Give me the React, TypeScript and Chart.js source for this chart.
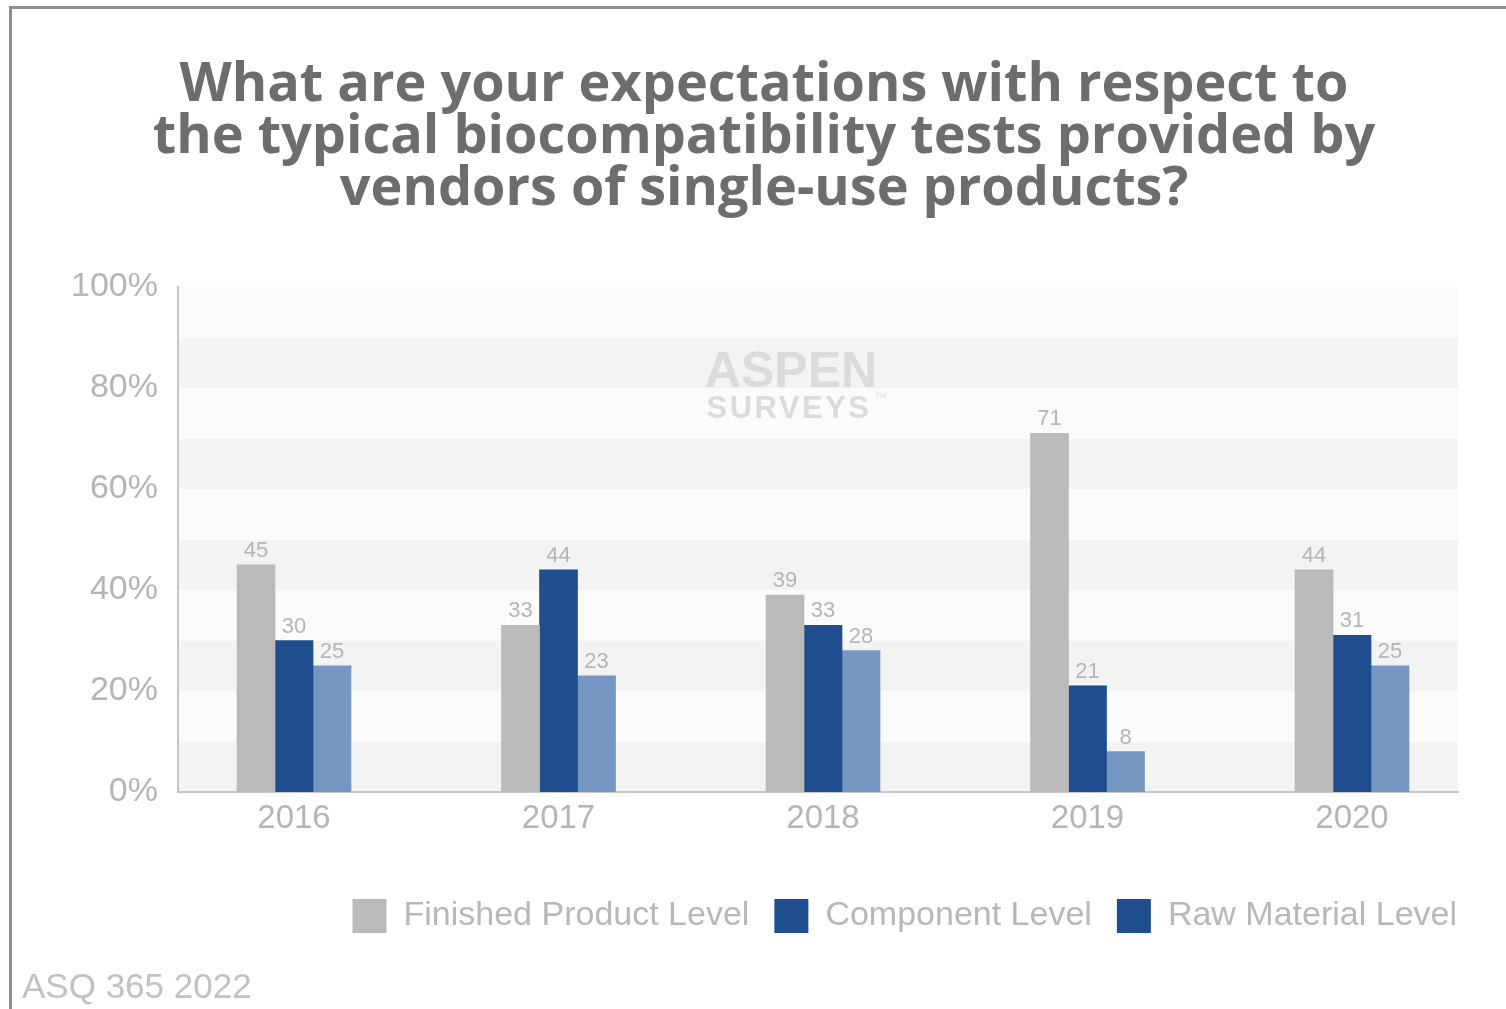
import React, { useEffect, useRef } from "react";
import { Chart, registerables } from "chart.js";

Chart.register(...registerables);

// ---------- data ----------
const years = [2016, 2017, 2018, 2019, 2020];
const finishedProduct = [45, 33, 39, 71, 44];
const componentLevel = [30, 44, 33, 21, 31];
const rawMaterial = [25, 23, 28, 8, 25];
const seriesNames = ["Finished Product Level", "Component Level", "Raw Material Level"];
const yTickStep = 20;
const titleLines = [
  "What are your expectations with respect to",
  "the typical biocompatibility tests provided by",
  "vendors of single-use products?",
];
const sourceNote = "ASQ 365 2022";

// ---------- styles ----------
const GRAY = "#bbbabb";
const BLUE = "#1f4e8e";
const LIGHT_BLUE = "#7797c3";
const LEGEND_COLORS = [GRAY, BLUE, BLUE];
const TEXT_GRAY = "#b5b5b5";
const SANS = "'Liberation Sans', Arial, Helvetica, sans-serif";

const bandsPlugin = {
  id: "bandsAndWatermark",
  beforeDraw(chart: any) {
    const { ctx, chartArea, scales } = chart;
    const y = scales.y;
    ctx.save();
    for (let v = 0; v < 100; v += 10) {
      const top = y.getPixelForValue(v + 10);
      const bottom = y.getPixelForValue(v);
      ctx.fillStyle = (v / 10) % 2 === 0 ? "#f3f3f3" : "#fbfbfb";
      ctx.fillRect(chartArea.left, top, chartArea.right - chartArea.left, bottom - top);
    }
    // watermark
    const cx = chartArea.left + 613;
    ctx.fillStyle = "#dbdbdb";
    ctx.textAlign = "center";
    ctx.textBaseline = "alphabetic";
    ctx.font = `bold 50px ${SANS}`;
    ctx.fillText("ASPEN", cx, chartArea.top + 100);
    ctx.font = `bold 31px ${SANS}`;
    (ctx as any).letterSpacing = "2.5px";
    ctx.fillText("SURVEYS", cx - 2, chartArea.top + 131);
    (ctx as any).letterSpacing = "0px";
    ctx.font = `8px ${SANS}`;
    ctx.textAlign = "left";
    ctx.fillText("TM", cx + 84, chartArea.top + 111);
    ctx.restore();
  },
  afterLayout(chart: any) {
    const lg = chart.legend;
    if (lg) {
      lg.left += 24;
      lg.right += 24;
    }
  },
};

const valueLabelsPlugin = {
  id: "valueLabels",
  afterDatasetsDraw(chart: any) {
    const ctx = chart.ctx;
    ctx.save();
    ctx.font = `22px ${SANS}`;
    ctx.fillStyle = TEXT_GRAY;
    ctx.textAlign = "center";
    ctx.textBaseline = "alphabetic";
    chart.data.datasets.forEach((ds: any, i: number) => {
      const meta = chart.getDatasetMeta(i);
      meta.data.forEach((el: any, j: number) => {
        ctx.fillText(String(ds.data[j]), el.x, el.y - 8);
      });
    });
    ctx.restore();
  },
};

export default function App() {
  const canvasRef = useRef<HTMLCanvasElement | null>(null);

  useEffect(() => {
    if (!canvasRef.current) return;
    const xMin = years[0] - 0.4386;
    const xMax = xMin + 4.8393;
    const chart = new Chart(canvasRef.current, {
      type: "bar",
      data: {
        labels: years,
        datasets: [
          { label: seriesNames[0], data: finishedProduct, backgroundColor: GRAY, borderWidth: 0 },
          { label: seriesNames[1], data: componentLevel, backgroundColor: BLUE, borderWidth: 0 },
          { label: seriesNames[2], data: rawMaterial, backgroundColor: LIGHT_BLUE, borderWidth: 0 },
        ],
      },
      options: {
        responsive: false,
        animation: false,
        devicePixelRatio: 1,
        datasets: { bar: { barThickness: 38 } },
        layout: { padding: { left: 22, right: 0, top: 0, bottom: 0 } },
        scales: {
          x: {
            type: "linear",
            bounds: "data",
            offset: false,
            min: xMin,
            max: xMax,
            grid: { display: false, drawTicks: false, offset: false },
            border: { display: true, color: "#c6c6c6", width: 2 },
            ticks: {
              includeBounds: false,
              font: { family: SANS, size: 33 },
              color: TEXT_GRAY,
              padding: 7,
              maxRotation: 0,
              autoSkip: false,
              callback: (v: any) => String(v),
            },
            afterDataLimits: (s: any) => {
              s.min = xMin;
              s.max = xMax;
            },
            afterBuildTicks: (s: any) => {
              s.ticks = years.map((v) => ({ value: v }));
              s.min = xMin;
              s.max = xMax;
            },
            afterFit: (s: any) => {
              s.height = 82;
            },
          },
          y: {
            position: "left",
            min: 0,
            max: 100,
            grid: { display: false, drawTicks: false },
            border: { display: true, color: "#c6c6c6", width: 2 },
            ticks: {
              stepSize: yTickStep,
              font: { family: SANS, size: 34 },
              color: TEXT_GRAY,
              padding: 20,
              callback: (v: any) => `${v}%`,
            },
            afterFit: (s: any) => {
              s.width = 156;
            },
          },
          yR: {
            type: "linear",
            position: "right",
            display: true,
            grid: { display: false, drawTicks: false },
            border: { display: false },
            ticks: { display: false },
            afterFit: (s: any) => {
              s.width = 48;
            },
          },
        },
        plugins: {
          title: {
            display: true,
            text: titleLines,
            color: "#6d6d70",
            font: { family: "'Open Sans', 'Noto Sans', sans-serif", size: 54, weight: "bold", lineHeight: 52 / 54 },
            padding: { top: 60, bottom: 71 },
          },
          subtitle: {
            display: true,
            position: "bottom",
            align: "start",
            text: sourceNote,
            color: "#c2c2c2",
            font: { family: SANS, size: 35, lineHeight: 1.2 },
            padding: { top: 24, bottom: 0 },
          },
          legend: {
            display: true,
            position: "bottom",
            align: "end",
            fullSize: false,
            labels: {
              boxWidth: 34,
              boxHeight: 34,
              padding: 25,
              color: "#b8b8b8",
              font: { family: SANS, size: 34 },
              generateLabels: (c: any) =>
                c.data.datasets.map((ds: any, i: number) => ({
                  text: ds.label,
                  fillStyle: LEGEND_COLORS[i],
                  strokeStyle: LEGEND_COLORS[i],
                  lineWidth: 0,
                  hidden: false,
                  datasetIndex: i,
                  fontColor: "#b8b8b8",
                })),
            },
          },
          tooltip: { enabled: false },
        },
      },
      plugins: [bandsPlugin, valueLabelsPlugin],
    } as any);
    return () => chart.destroy();
  }, []);

  return (
    <div style={{ position: "absolute", left: 0, top: 0, width: 1506, height: 1009, background: "#ffffff", overflow: "hidden" }}>
      <canvas ref={canvasRef} width={1506} height={1009} style={{ position: "absolute", left: 0, top: 0 }} />
      <div
        style={{
          position: "absolute",
          left: 9,
          top: 6,
          right: 0,
          bottom: 0,
          borderTop: "3px solid #8e8e8e",
          borderLeft: "3px solid #8e8e8e",
          pointerEvents: "none",
        }}
      />
    </div>
  );
}
